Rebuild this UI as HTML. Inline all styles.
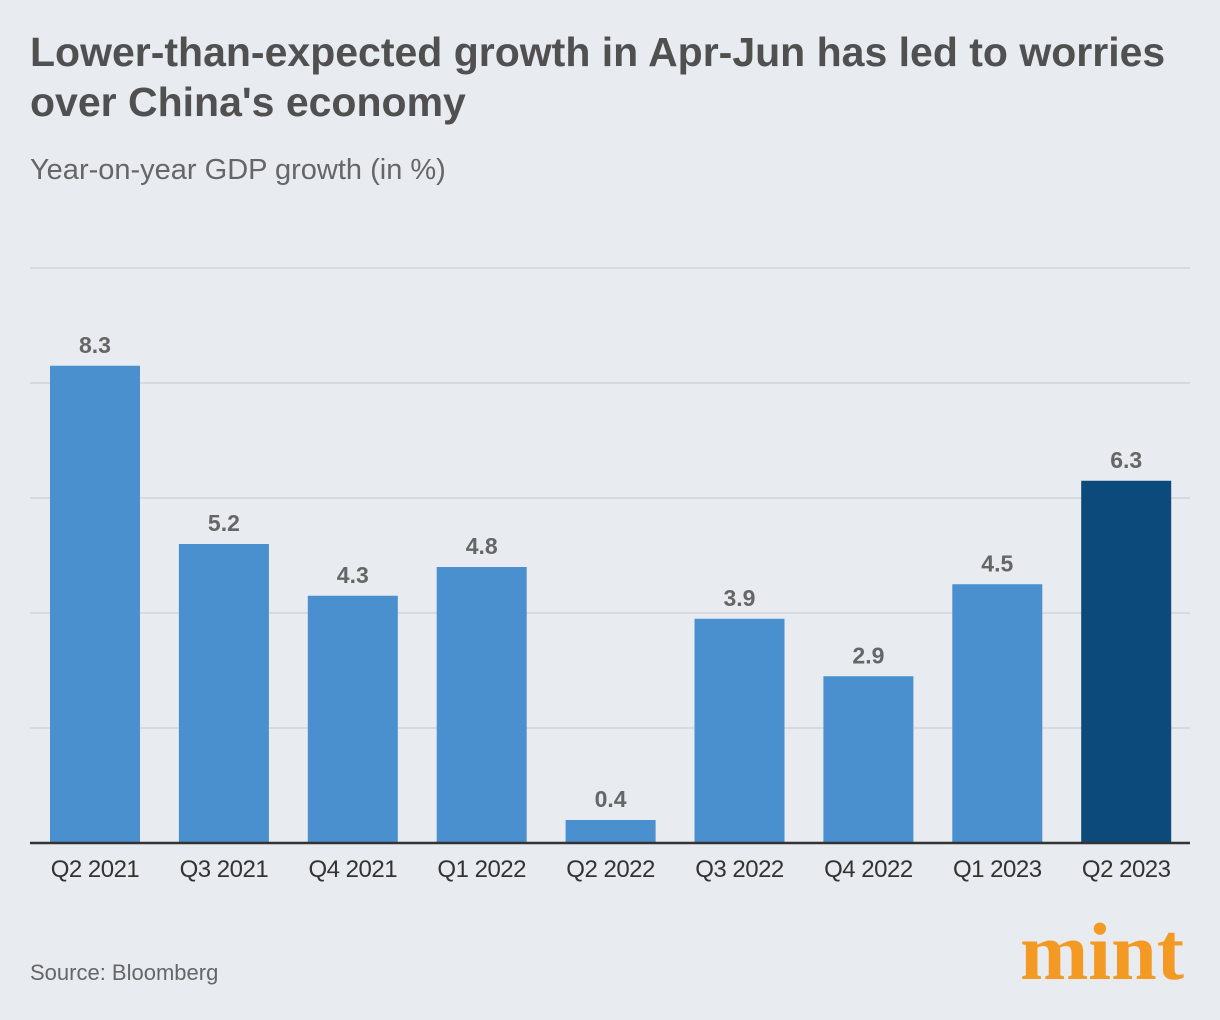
<!DOCTYPE html>
<html><head><meta charset="utf-8"><style>
body{margin:0;width:1220px;height:1020px;background:#e8ebef;font-family:"Liberation Sans",sans-serif;position:relative;overflow:hidden}
#title{position:absolute;left:30px;top:27px;font-size:41px;font-weight:bold;color:#505050;line-height:50px;letter-spacing:0px}
#sub{position:absolute;left:30px;top:154px;font-size:29px;color:#666;letter-spacing:0px}
#src{position:absolute;left:30px;top:960px;font-size:22px;color:#666}
#logo{position:absolute;left:1020px;top:905px;font-family:"Liberation Serif",serif;font-weight:bold;font-size:82px;color:#f39a24;letter-spacing:0px}
svg{position:absolute;left:0;top:0}
</style></head><body>
<div id="title">Lower-than-expected growth in Apr-Jun has led to worries<br>over China's economy</div>
<div id="sub">Year-on-year GDP growth (in %)</div>
<svg id="chart" width="1220" height="1020"></svg>
<div id="src">Source: Bloomberg</div>
<div id="logo">mint</div>
<script>
const categories=["Q2 2021","Q3 2021","Q4 2021","Q1 2022","Q2 2022","Q3 2022","Q4 2022","Q1 2023","Q2 2023"];
const values=[8.3,5.2,4.3,4.8,0.4,3.9,2.9,4.5,6.3];
const gridTicks=[0,2,4,6,8,10];
const NS="http://www.w3.org/2000/svg";
const svg=document.getElementById('chart');
const y0=843,pxPer=57.5,x0=50,step=128.9,bw=90;
const y=v=>y0-v*pxPer;
const x=i=>x0+i*step;
function mk(t,a){const e=document.createElementNS(NS,t);for(const k in a)e.setAttribute(k,a[k]);svg.appendChild(e);return e;}
gridTicks.forEach(t=>{if(t===0)return;
 const l=mk('line',{x1:30,x2:1190,y1:y(t),y2:y(t),stroke:'#cfd3d8','stroke-width':1.5});
 
 });
values.forEach((v,i)=>{
 const last=i===values.length-1;
 const r=mk('rect',{x:x(i),y:y(v),width:bw,height:v*pxPer,fill:last?'#0b4a7a':'#4a90cf'});
 
 
 const t=mk('text',{x:x(i)+bw/2,y:y(v)-13,'text-anchor':'middle','font-size':23,'font-weight':'bold',fill:'#666'});
 t.textContent=v.toFixed(1);
 
 
 const c=mk('text',{x:x(i)+bw/2,y:877,'text-anchor':'middle','font-size':24,fill:'#333','letter-spacing':'-0.5'});
 c.textContent=categories[i];
 
 
});
const b=mk('line',{x1:30,x2:1190,y1:y0,y2:y0,stroke:'#333','stroke-width':2.5});


</script>
</body></html>
